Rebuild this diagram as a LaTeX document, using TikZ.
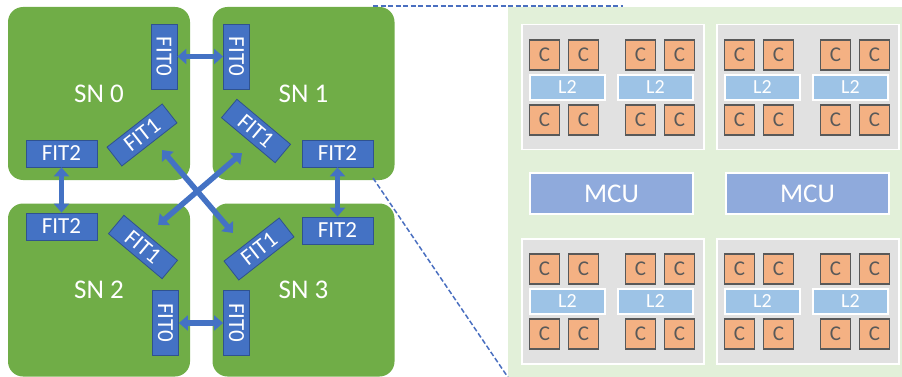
\documentclass[tikz,border=0pt]{standalone}
\usepackage{fontspec}
\setmainfont{Carlito}
\usetikzlibrary{arrows.meta}
\definecolor{sngreen}{HTML}{70AD47}
\definecolor{fitblue}{HTML}{4472C4}
\definecolor{fitedge}{HTML}{2F528F}
\definecolor{panelgreen}{HTML}{E2F0D9}
\definecolor{clustergray}{HTML}{E1E1E1}
\definecolor{coreorange}{HTML}{F4B183}
\definecolor{coreedge}{HTML}{595959}
\definecolor{ltwoblue}{HTML}{9DC3E6}
\definecolor{mcublue}{HTML}{8FAADC}
\definecolor{zoomblue}{HTML}{4A6FC0}

\begin{document}
\begin{tikzpicture}[x=1pt,y=-1pt,
  snbox/.style={fill=sngreen, rounded corners=15pt, minimum width=182pt,
    minimum height=173pt, inner sep=0pt, text=white,
    font=\fontsize{27}{27}\selectfont},
  fitbase/.style={draw=fitedge, line width=0.8pt, fill=fitblue, text=white,
    inner sep=0pt, font=\fontsize{23}{23}\selectfont},
  fitzero/.style={fitbase, minimum width=65pt, minimum height=26pt, rotate=-90},
  fittwo/.style={fitbase, minimum width=71pt, minimum height=27pt},
  fitone/.style={fitbase, minimum width=70pt, minimum height=24pt, rotate=#1},
  link/.style={fitblue, line width=5.5pt,
    {Triangle[width=15pt,length=9pt]}-{Triangle[width=15pt,length=9pt]}},
  zoomline/.style={zoomblue, line width=1.5pt, dash pattern=on 5pt off 2.5pt},
  cluster/.style={fill=clustergray, draw=white, line width=1.5pt,
    minimum width=182pt, minimum height=125pt, inner sep=0pt},
  core/.style={fill=coreorange, draw=coreedge, line width=1.5pt,
    minimum width=30pt, minimum height=30pt, inner sep=0pt, text=coreedge,
    font=\fontsize{21}{21}\selectfont},
  ltwo/.style={fill=ltwoblue, draw=white, line width=1.5pt,
    minimum width=75pt, minimum height=25pt, inner sep=0pt, text=white,
    font=\fontsize{20}{20}\selectfont},
  mcu/.style={fill=mcublue, draw=white, line width=1.5pt,
    minimum width=163pt, minimum height=41pt, inner sep=0pt, text=white,
    font=\fontsize{27}{27}\selectfont}]

\useasboundingbox (0,0) rectangle (902,377);

% ---- zoomed-in view of one node ----
\node[fill=panelgreen, minimum width=394pt, minimum height=370pt,
  inner sep=0pt, anchor=north west] (panel) at (508,7) {};

\foreach \q/\qx/\qy in {a/521/24, b/716/24, c/521/238, d/716/238} {
  \node[cluster, anchor=north west] (cl-\q) at (\qx,\qy) {};
  \foreach \i/\cx in {1/23.5, 2/62.5, 3/119.5, 4/158.5} {
    \node[core] (c-\q-\i-top) at (\qx+\cx,\qy+31) {C};
    \node[core] (c-\q-\i-bot) at (\qx+\cx,\qy+96) {C};
  }
  \node[ltwo] (l2-\q-1) at (\qx+46.5,\qy+63.5) {L2};
  \node[ltwo] (l2-\q-2) at (\qx+134.5,\qy+63.5) {L2};
}

\node[mcu] (mcu-1) at (611.5,193.5) {MCU};
\node[mcu] (mcu-2) at (807.5,193.5) {MCU};

% ---- four super nodes ----
\node[snbox] (sn0) at (99,93.5) {SN 0};
\node[snbox] (sn1) at (303.5,93.5) {SN 1};
\node[snbox] (sn2) at (99,290) {SN 2};
\node[snbox] (sn3) at (303.5,290) {SN 3};

% FIT0 ports
\node[fitzero] (f0a) at (164,56.5) {FIT0};
\node[fitzero] (f0b) at (236.5,56.5) {FIT0};
\node[fitzero] (f0c) at (165.5,323) {FIT0};
\node[fitzero] (f0d) at (236.5,323) {FIT0};

% FIT2 ports
\node[fittwo] (f2a) at (61.5,153.5) {FIT2};
\node[fittwo] (f2b) at (337.5,153.5) {FIT2};
\node[fittwo] (f2c) at (61.5,226.5) {FIT2};
\node[fittwo] (f2d) at (337.5,230.5) {FIT2};

% FIT1 ports
\node[fitone=38] (f1a) at (142,135) {FIT1};
\node[fitone=-40] (f1b) at (256,131) {FIT1};
\node[fitone=-40] (f1c) at (143,247) {FIT1};
\node[fitone=38] (f1d) at (259,249) {FIT1};

% links
\draw[link] (f0a.north) -- (f0b.south);
\draw[link] (f0c.north) -- (f0d.south);
\draw[link] (f2a.south) -- (f2c.north);
\draw[link] (f2b.south) -- (f2d.north);

\coordinate (xa) at (162,150);
\coordinate (xd) at (233,233);
\coordinate (xb) at (242,153);
\coordinate (xc) at (158,225);
\draw[link] (xb) -- (xc);
\draw[link] (xa) -- (xd);

% zoom guide lines
\coordinate (zt0) at (373,6);
\coordinate (zt1) at (623,6);
\coordinate (zb0) at (373,178);
\draw[zoomline] (zt0) -- (zt1);
\draw[zoomline] (zb0) -- (panel.south west);

\end{tikzpicture}
\end{document}
